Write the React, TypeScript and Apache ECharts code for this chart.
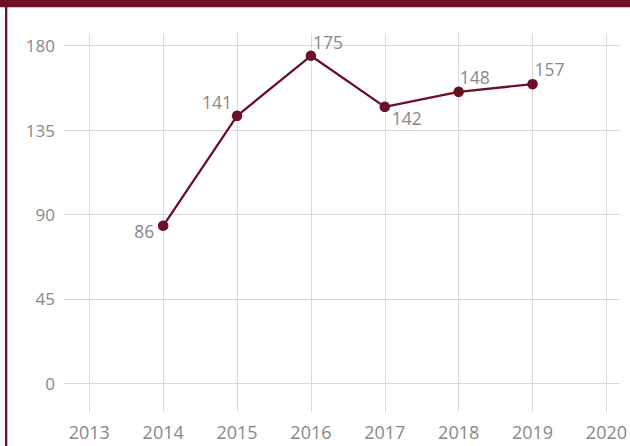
import React, { useEffect, useRef } from "react";
import * as echarts from "echarts";

const axisYears = [2013, 2014, 2015, 2016, 2017, 2018, 2019, 2020];
const yTicks = [0, 45, 90, 135, 180];
const dataYears = [2014, 2015, 2016, 2017, 2018, 2019];
// plotted heights
const plottedValues = [84.0, 142.6, 174.6, 147.4, 155.4, 159.5];
// numbers printed beside the points
const printedLabels = ["86", "141", "175", "142", "148", "157"];

const MAROON = "#6b1027";
const GRID = "#d9d9d9";
const TEXT = "#888888";
const FONT = "'Open Sans', 'Noto Sans', sans-serif";

// label styling (alignment and offset from point centre), not data
const labelStyle: { align: "left" | "right"; offset: [number, number] }[] = [
  { align: "right", offset: [-9, 5] },
  { align: "right", offset: [-5, -14] },
  { align: "left", offset: [2, -14] },
  { align: "left", offset: [7, 11] },
  { align: "left", offset: [1, -15] },
  { align: "left", offset: [2, -15] },
];

export default function App() {
  const ref = useRef<HTMLDivElement>(null);
  useEffect(() => {
    if (!ref.current) return;
    const chart = echarts.init(ref.current, null, { renderer: "svg" });
    const option: any = {
      animation: false,
      backgroundColor: "#ffffff",
      textStyle: { fontFamily: FONT },
      graphic: [
        { type: "rect", shape: { x: 0, y: 0, width: 630, height: 7.3 }, style: { fill: MAROON }, z: 100 },
        { type: "rect", shape: { x: 5, y: 7, width: 2.3, height: 439 }, style: { fill: MAROON }, z: 100 },
      ],
      grid: [
        { left: 89.3, right: 21.3, top: 33.3, bottom: 34.3, containLabel: false },
        { left: 64, right: 10, top: 45.7, bottom: 62.7, containLabel: false },
      ],
      xAxis: [
        {
          type: "value",
          gridIndex: 0,
          min: axisYears[0],
          max: axisYears[axisYears.length - 1],
          interval: 1,
          axisLine: { show: false },
          axisTick: { show: false },
          axisLabel: {
            color: TEXT,
            fontSize: 18,
            fontFamily: FONT,
            margin: 11,
            formatter: (v: number) => String(v),
          },
          splitLine: { show: true, lineStyle: { color: GRID, width: 1 } },
        },
        { type: "value", gridIndex: 1, min: 0, max: 1, show: false },
      ],
      yAxis: [
        { type: "value", gridIndex: 0, min: -15.1, max: 186.6, show: false },
        {
          type: "value",
          gridIndex: 1,
          min: yTicks[0],
          max: yTicks[yTicks.length - 1],
          interval: yTicks[1] - yTicks[0],
          axisLine: { show: false },
          axisTick: { show: false },
          axisLabel: {
            color: TEXT,
            fontSize: 17,
            fontFamily: FONT,
            margin: 9,
            padding: [0, 0, 5, 0],
          },
          splitLine: { show: true, lineStyle: { color: GRID, width: 1 } },
        },
      ],
      series: [
        {
          type: "line",
          xAxisIndex: 0,
          yAxisIndex: 0,
          symbol: "circle",
          symbolSize: 10.5,
          lineStyle: { color: MAROON, width: 2.3 },
          itemStyle: { color: MAROON },
          data: dataYears.map((y, i) => ({
            value: [y, plottedValues[i]],
            label: {
              show: true,
              position: "inside",
              align: labelStyle[i].align,
              verticalAlign: "middle",
              offset: labelStyle[i].offset,
              formatter: printedLabels[i],
              color: TEXT,
              fontSize: 17.5,
              fontFamily: FONT,
            },
          })),
          z: 5,
        },
      ],
    };
    chart.setOption(option);
    return () => chart.dispose();
  }, []);
  return (
    <div
      ref={ref}
      style={{ position: "fixed", left: 0, top: 0, width: 630, height: 446 }}
    />
  );
}
